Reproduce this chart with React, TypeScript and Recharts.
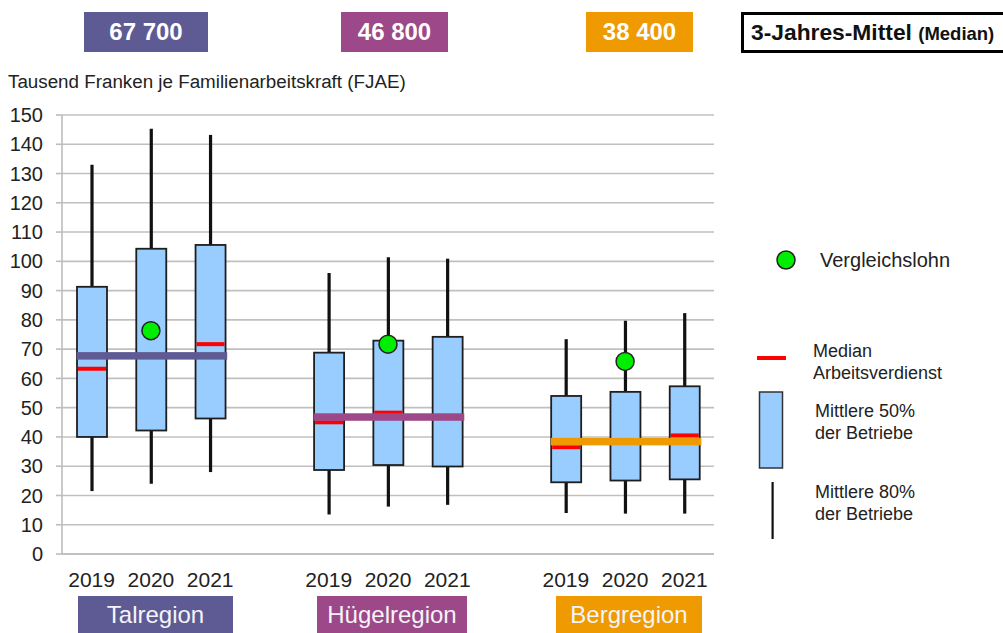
import React from 'react';
import { ComposedChart, Bar, Line, XAxis, YAxis, CartesianGrid, ReferenceLine } from 'recharts';

const categoryIds = ['T2019', 'T2020', 'T2021', 'gap1', 'H2019', 'H2020', 'H2021', 'gap2', 'B2019', 'B2020', 'B2021'];
const yearLabels = ['2019', '2020', '2021', '', '2019', '2020', '2021', '', '2019', '2020', '2021'];

// Mittlere 80% der Betriebe (10. / 90. Perzentil)
const p10 = [21.5, 24, 28, null, 13.5, 16.2, 16.8, null, 14, 13.8, 13.8];
const p90 = [133, 145.3, 143.2, null, 96, 101.4, 100.9, null, 73.4, 79.7, 82.3];
// Mittlere 50% der Betriebe (Quartile)
const q1 = [40, 42.2, 46.3, null, 28.7, 30.4, 29.9, null, 24.5, 25.1, 25.5];
const q3 = [91.3, 104.3, 105.6, null, 68.8, 72.9, 74.2, null, 54, 55.4, 57.3];
// Median Arbeitsverdienst
const median = [63.3, 67.8, 71.7, null, 45, 48.3, 46.5, null, 36.5, 38.2, 40.5];
// Vergleichslohn
const vergleichslohn = [null, 76.3, null, null, null, 71.7, null, null, null, 65.8, null];

const regionNames = ['Talregion', 'Hügelregion', 'Bergregion'];
const regionMedians = [67.7, 46.8, 38.4];
const regionMedianLabels = ['67 700', '46 800', '38 400'];
const regionFirst = ['T2019', 'H2019', 'B2019'];
const regionLast = ['T2021', 'H2021', 'B2021'];
const regionColors = ['#5E5B94', '#9C4889', '#EE9A00'];

const yTicks = [0, 10, 20, 30, 40, 50, 60, 70, 80, 90, 100, 110, 120, 130, 140, 150];

const data = categoryIds.map((id, i) => ({
  id,
  whisker: p10[i] == null ? null : [p10[i], p90[i]],
  box: q1[i] == null ? null : [q1[i], q3[i]],
  q1: q1[i],
  q3: q3[i],
  median: median[i],
  vgl: vergleichslohn[i],
}));

const FONT = '"Liberation Sans", Arial, Helvetica, sans-serif';
const TEXT = '#222';

const WhiskerShape = (props: any) => {
  const { x, y, width, height, payload } = props;
  if (!payload || payload.q1 == null) return <g />;
  const top = Math.min(y, y + height);
  const h = Math.abs(height);
  return <rect x={x + width / 2 - 1.6} y={top} width={3.2} height={h} fill="#111" />;
};

const BoxShape = (props: any) => {
  const { x, y, width, height, payload } = props;
  if (!payload || payload.q1 == null) return <g />;
  const top = Math.min(y, y + height);
  const h = Math.abs(height);
  const bottom = top + h;
  const medY = bottom - ((payload.median - payload.q1) / (payload.q3 - payload.q1)) * h;
  return (
    <g>
      <rect x={x} y={top} width={width} height={h} fill="#99CCFF" stroke="#1E1E1E" strokeWidth={1.8} />
      <rect x={x + 1} y={medY - 2} width={width - 2} height={4} fill="#FF0000" />
    </g>
  );
};

const VglDot = (props: any) => {
  const { cx, cy, value, index } = props;
  if (value == null || cy == null || isNaN(cy)) return <g key={`d${index}`} />;
  return <circle key={`d${index}`} cx={cx} cy={cy} r={9} fill="#00EE00" stroke="#222" strokeWidth={1.5} />;
};

const makeGroupLine = (color: string) => (props: any) => {
  const { x1, y1, x2 } = props;
  return <rect x={x1 - 15} y={y1 - 3.75} width={x2 - x1 + 32} height={7.5} fill={color} />;
};

const YearTick = (props: any) => {
  const { x, y, payload } = props;
  const idx = categoryIds.indexOf(payload.value);
  return (
    <text x={x} y={y} dy="0.71em" textAnchor="middle" fontSize={21} fill={TEXT} fontFamily={FONT}>
      {idx >= 0 ? yearLabels[idx] : ''}
    </text>
  );
};

const topBoxPos = [
  { left: 84, width: 124 },
  { left: 341, width: 107 },
  { left: 586, width: 107 },
];
const regionBoxPos = [
  { left: 78, width: 155 },
  { left: 317, width: 150 },
  { left: 556, width: 146 },
];

export default function App() {
  return (
    <div style={{ position: 'absolute', left: 0, top: 0, width: 1003, height: 633, background: '#fff', fontFamily: FONT, overflow: 'hidden' }}>
      <ComposedChart
        width={1003}
        height={633}
        data={data}
        margin={{ top: 115, right: 289, bottom: 39, left: 0 }}
        style={{ position: 'absolute', left: 0, top: 0 }}
      >
        <CartesianGrid xAxisId="m" vertical={false} stroke="#C0C0C0" strokeWidth={1.6} />
        <XAxis xAxisId="w" dataKey="id" hide />
        <XAxis
          xAxisId="m"
          dataKey="id"
          height={40}
          interval={0}
          tickLine={false}
          tickSize={0}
          tickMargin={18}
          axisLine={{ stroke: '#BDBDBD', strokeWidth: 1.6 }}
          tick={<YearTick />}
        />
        <YAxis
          domain={[0, 150]}
          ticks={yTicks}
          interval={0}
          width={62}
          tickSize={6}
          tickMargin={13}
          axisLine={{ stroke: '#BDBDBD', strokeWidth: 1.6 }}
          tickLine={{ stroke: '#BDBDBD', strokeWidth: 1.6 }}
          tick={{ fontSize: 20, fill: TEXT, fontFamily: FONT }}
        />
        <Bar xAxisId="w" dataKey="whisker" barSize={30} shape={<WhiskerShape />} isAnimationActive={false} />
        <Bar xAxisId="m" dataKey="box" barSize={30} shape={<BoxShape />} isAnimationActive={false} />
        {regionNames.map((r, i) => (
          <ReferenceLine
            key={r}
            xAxisId="m"
            segment={[
              { x: regionFirst[i], y: regionMedians[i] },
              { x: regionLast[i], y: regionMedians[i] },
            ]}
            shape={makeGroupLine(regionColors[i])}
          />
        ))}
        <Line
          xAxisId="m"
          dataKey="vgl"
          stroke="none"
          dot={<VglDot />}
          activeDot={false}
          isAnimationActive={false}
          legendType="none"
        />
      </ComposedChart>

      {/* Top: 3-Jahres-Mittel values */}
      {regionMedianLabels.map((t, i) => (
        <div
          key={t}
          style={{
            position: 'absolute',
            left: topBoxPos[i].left,
            top: 12,
            width: topBoxPos[i].width,
            height: 40,
            background: regionColors[i],
            color: '#fff',
            fontWeight: 'bold',
            fontSize: 24,
            lineHeight: '40px',
            textAlign: 'center',
          }}
        >
          {t}
        </div>
      ))}
      <div
        style={{
          position: 'absolute',
          left: 741,
          top: 12,
          width: 275,
          height: 35,
          border: '3px solid #000',
          color: '#111',
          fontWeight: 'bold',
          lineHeight: '35px',
          paddingLeft: 7,
          whiteSpace: 'nowrap',
        }}
      >
        <span style={{ fontSize: 22.8 }}>3-Jahres-Mittel </span>
        <span style={{ fontSize: 18.5 }}>(Median)</span>
      </div>

      <div style={{ position: 'absolute', left: 8, top: 70, fontSize: 18.8, color: TEXT, whiteSpace: 'nowrap', lineHeight: '24px' }}>
        Tausend Franken je Familienarbeitskraft (FJAE)
      </div>

      {/* Region labels */}
      {regionNames.map((r, i) => (
        <div
          key={r}
          style={{
            position: 'absolute',
            left: regionBoxPos[i].left,
            top: 596,
            width: regionBoxPos[i].width,
            height: 40,
            background: regionColors[i],
            color: '#F4F4F8',
            fontSize: 24,
            lineHeight: '38px',
            textAlign: 'center',
          }}
        >
          {r}
        </div>
      ))}

      {/* Legend */}
      <svg style={{ position: 'absolute', left: 0, top: 0 }} width={1003} height={633} pointerEvents="none">
        <circle cx={786} cy={260} r={9} fill="#00EE00" stroke="#222" strokeWidth={1.5} />
        <rect x={757} y={356} width={29} height={4} fill="#FF0000" />
        <rect x={759.5} y={392} width={23} height={76} fill="#99CCFF" stroke="#333" strokeWidth={1.5} />
        <rect x={771.5} y={482} width={2.2} height={57} fill="#111" />
      </svg>
      <div style={{ position: 'absolute', left: 820, top: 247, fontSize: 20, color: TEXT, lineHeight: '26px', whiteSpace: 'nowrap' }}>
        Vergleichslohn
      </div>
      <div style={{ position: 'absolute', left: 813, top: 341, fontSize: 18, color: TEXT, lineHeight: '21.5px', whiteSpace: 'nowrap' }}>
        Median
        <br />
        Arbeitsverdienst
      </div>
      <div style={{ position: 'absolute', left: 815, top: 401, fontSize: 18, color: TEXT, lineHeight: '21.5px', whiteSpace: 'nowrap' }}>
        Mittlere 50%
        <br />
        der Betriebe
      </div>
      <div style={{ position: 'absolute', left: 815, top: 482, fontSize: 18, color: TEXT, lineHeight: '21.5px', whiteSpace: 'nowrap' }}>
        Mittlere 80%
        <br />
        der Betriebe
      </div>
    </div>
  );
}
